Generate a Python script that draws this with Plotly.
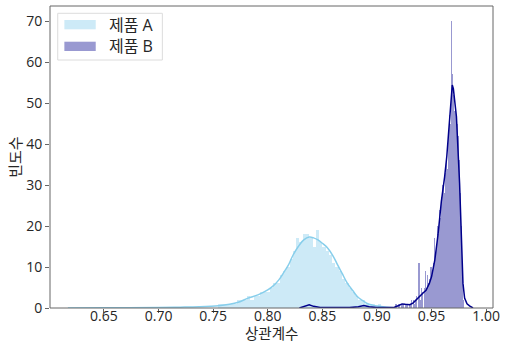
import plotly.graph_objects as go

# ---------------- data ----------------
series_names = ["제품 A", "제품 B"]

# 제품 A histogram: bins of width 0.003 starting at 0.700
a_bin_start = 0.700
a_bin_width = 0.003
a_counts = [0, 0, 0, 0, 0, 0, 0, 0, 0, 0,
            0, 0, 0, 0, 0, 0, 0, 0, 1, 1,
            1, 1, 1, 1, 2, 2, 2, 3, 2, 3,
            3, 4, 4, 4, 5, 6, 6, 8, 9, 10,
            12, 14, 17, 16, 18, 18, 17, 15, 19, 16,
            15, 14, 13, 11, 10, 9, 7, 6, 5, 4,
            3, 2, 2, 1, 1, 1, 0, 1, 0, 0]

# 제품 B histogram: bins of width 0.001 starting at 0.915
b_bin_start = 0.915
b_bin_width = 0.001
b_counts = [0, 0, 1, 0, 1, 1, 0, 1, 1, 1,
            0, 1, 1, 0, 1, 1, 2, 0, 2, 1,
            2, 3, 0, 11, 2, 5, 4, 0, 5, 9,
            5, 8, 6, 7, 10, 9, 11, 17, 13, 15,
            20, 18, 24, 22, 27, 30, 28, 33, 36, 34,
            42, 47, 45, 70, 57, 52, 48, 46, 45, 42,
            36, 28, 20, 9, 2, 0]

# KDE curves (scaled to counts)
a_kde_x = [0.617, 0.65, 0.70, 0.72, 0.737, 0.755, 0.765, 0.773, 0.782, 0.791,
           0.800, 0.805, 0.810, 0.815, 0.819, 0.823, 0.828, 0.833, 0.838, 0.842,
           0.846, 0.850, 0.855, 0.860, 0.864, 0.868, 0.873, 0.878, 0.882, 0.887,
           0.891, 0.896, 0.900, 0.909, 0.915]
a_kde_y = [0.0, 0.05, 0.12, 0.2, 0.3, 0.55, 0.9, 1.4, 2.4, 3.2,
           4.4, 5.4, 6.8, 8.8, 10.5, 12.8, 15.0, 16.6, 17.3, 17.1,
           16.6, 15.8, 14.6, 12.6, 10.5, 8.5, 6.0, 4.2, 2.8, 1.8,
           1.1, 0.7, 0.5, 0.2, 0.05]

b_kde_x = [0.829, 0.834, 0.838, 0.842, 0.848, 0.860, 0.875, 0.883, 0.888, 0.893,
           0.900, 0.910, 0.916, 0.920, 0.923, 0.926, 0.930, 0.933, 0.936, 0.939,
           0.942, 0.945, 0.948, 0.950, 0.953, 0.956, 0.959, 0.962, 0.964, 0.966,
           0.968, 0.969, 0.970, 0.971, 0.9728, 0.9757, 0.9773, 0.9788, 0.9803, 0.9825,
           0.9848, 0.988]
b_kde_y = [0.0, 0.4, 0.8, 0.4, 0.15, 0.1, 0.1, 0.3, 0.6, 0.3,
           0.1, 0.1, 0.2, 0.6, 1.0, 0.9, 0.8, 1.2, 2.0, 3.0,
           3.6, 4.3, 6.0, 7.6, 11.7, 18.0, 26.0, 32.0, 37.0, 44.0,
           51.5, 54.4, 53.5, 51.0, 46.7, 30.4, 18.2, 6.0, 2.4, 1.0,
           0.5, 0.0]

x_ticks = [0.65, 0.70, 0.75, 0.80, 0.85, 0.90, 0.95, 1.00]
y_ticks = [0, 10, 20, 30, 40, 50, 60, 70]
x_title = "상관계수"
y_title = "빈도수"

# ---------------- styles ----------------
A_FILL = "rgba(135,206,235,0.42)"
A_LINE = "rgb(135,206,235)"
B_FILL = "rgba(0,0,139,0.40)"
B_LINE = "rgb(0,0,139)"
FONT = "Open Sans, Noto Sans CJK KR, Noto Sans, sans-serif"
TXT = "#262626"
SPINE = "#666666"

a_centers = [a_bin_start + a_bin_width * (i + 0.5) for i in range(len(a_counts))]
b_centers = [b_bin_start + b_bin_width * (i + 0.5) for i in range(len(b_counts))]

fig = go.Figure()
fig.add_trace(go.Bar(x=a_centers, y=a_counts, width=a_bin_width,
                     marker=dict(color=A_FILL, line=dict(width=0)),
                     name=series_names[0], showlegend=False))
fig.add_trace(go.Bar(x=b_centers, y=b_counts, width=b_bin_width,
                     marker=dict(color=B_FILL, line=dict(width=0)),
                     name=series_names[1], showlegend=False))
fig.add_trace(go.Scatter(x=a_kde_x, y=a_kde_y, mode="lines",
                         line=dict(color=A_LINE, width=1.5, shape="spline"),
                         showlegend=False, hoverinfo="skip"))
fig.add_trace(go.Scatter(x=b_kde_x, y=b_kde_y, mode="lines",
                         line=dict(color=B_LINE, width=1.5),
                         showlegend=False, hoverinfo="skip"))

# plot area in pixels: left 49.5, right 497, top 6, bottom 308
W, H = 506, 344
L, R, T, B = 49.5, 497, 6, 308
pw, ph = R - L, B - T

def fx(px):
    return (px - L) / pw

def fy(py):
    return (B - py) / ph

shapes = [
    # plot frame
    dict(type="rect", xref="paper", yref="paper", x0=0, x1=1, y0=0, y1=1,
         line=dict(color=SPINE, width=1), fillcolor="rgba(0,0,0,0)", layer="above"),
    # legend frame
    dict(type="rect", xref="paper", yref="paper",
         x0=fx(57.3), x1=fx(163), y0=fy(60), y1=fy(13.3),
         line=dict(color="#dcdcdc", width=1), fillcolor="rgba(255,255,255,0.85)", layer="above"),
    dict(type="rect", xref="paper", yref="paper",
         x0=fx(64), x1=fx(95.7), y0=fy(29.3), y1=fy(20),
         line=dict(width=0), fillcolor=A_FILL, layer="above"),
    dict(type="rect", xref="paper", yref="paper",
         x0=fx(64), x1=fx(95.7), y0=fy(51), y1=fy(41.7),
         line=dict(width=0), fillcolor=B_FILL, layer="above"),
]
annotations = [
    dict(text=series_names[0], xref="paper", yref="paper", x=fx(107), y=fy(25),
         xanchor="left", yanchor="middle", showarrow=False,
         font=dict(size=16, color=TXT, family=FONT)),
    dict(text=series_names[1], xref="paper", yref="paper", x=fx(107), y=fy(46.5),
         xanchor="left", yanchor="middle", showarrow=False,
         font=dict(size=16, color=TXT, family=FONT)),
    dict(text=x_title, xref="paper", yref="paper", x=fx(273), y=fy(344),
         xanchor="center", yanchor="bottom", showarrow=False, borderpad=0,
         font=dict(size=14.5, color=TXT, family=FONT)),
    dict(text=y_title, xref="paper", yref="paper", x=fx(14), y=fy(157),
         xanchor="center", yanchor="middle", showarrow=False, textangle=-90,
         font=dict(size=15, color=TXT, family=FONT)),
]

fig.update_layout(
    width=W, height=H,
    margin=dict(l=L, r=W - R, t=T, b=H - B),
    paper_bgcolor="white", plot_bgcolor="white",
    barmode="overlay", bargap=0,
    font=dict(family=FONT, size=14, color=TXT),
    shapes=shapes, annotations=annotations,
    showlegend=False,
)
fig.update_xaxes(range=[0.6006, 1.0063], tickvals=x_ticks, tickformat=".2f",
                 showgrid=False, zeroline=False, showline=False,
                 ticks="outside", ticklen=4, tickcolor=SPINE,
                 ticklabelstandoff=-9,
                 tickfont=dict(size=14, color=TXT, family=FONT))
fig.update_yaxes(range=[0, 73.66], tickvals=y_ticks,
                 showgrid=False, zeroline=False, showline=False,
                 ticks="outside", ticklen=4, tickcolor=SPINE,
                 tickfont=dict(size=14, color=TXT, family=FONT))

fig.write_html("out.html", config={"displayModeBar": False},
               post_script="document.body.style.margin='0';document.body.style.overflow='hidden';")
